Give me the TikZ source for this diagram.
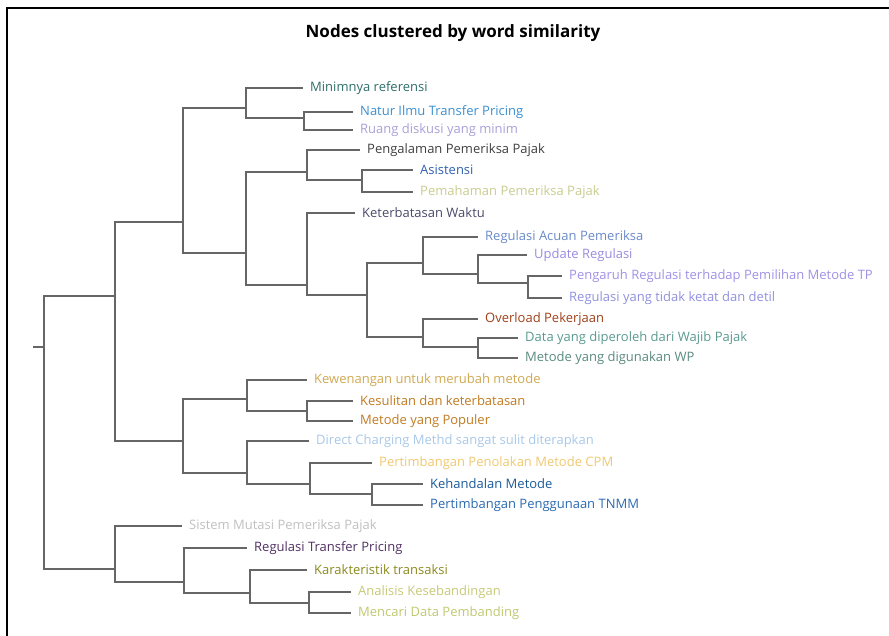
\documentclass[tikz,border=0pt]{standalone}
\usepackage{fontspec}
\setmainfont{Open Sans}
\usepackage{xcolor}
\definecolor{linkgray}{HTML}{666666}
\definecolor{cMin}{HTML}{2E6E6A}
\definecolor{cNatur}{HTML}{3A8FD0}
\definecolor{cRuang}{HTML}{A9A0D8}
\definecolor{cPengal}{HTML}{404040}
\definecolor{cAsist}{HTML}{3060B0}
\definecolor{cPemah}{HTML}{C8CC90}
\definecolor{cKeterb}{HTML}{4A4A6A}
\definecolor{cAcuan}{HTML}{6A8AC8}
\definecolor{cUpdate}{HTML}{9A8AE0}
\definecolor{cPengar}{HTML}{A090E8}
\definecolor{cTidak}{HTML}{9090E0}
\definecolor{cOverl}{HTML}{A0401A}
\definecolor{cData}{HTML}{5A9A90}
\definecolor{cWP}{HTML}{5A8A80}
\definecolor{cKewen}{HTML}{D0A850}
\definecolor{cSulit}{HTML}{C07A20}
\definecolor{cDirect}{HTML}{A8C8E8}
\definecolor{cTolak}{HTML}{F0C870}
\definecolor{cHandal}{HTML}{1A5A9A}
\definecolor{cTNMM}{HTML}{2A6AB0}
\definecolor{cMutasi}{HTML}{C0C0C0}
\definecolor{cRegTP}{HTML}{503060}
\definecolor{cKarak}{HTML}{8A8A20}
\definecolor{cAnal}{HTML}{C8C878}
\definecolor{cCari}{HTML}{C0C870}

\begin{document}
\begin{tikzpicture}[x=1pt,y=-1pt,
    link/.style={draw=linkgray,line width=1.3pt},
    leaf/.style={anchor=west,inner xsep=7pt,inner ysep=1pt,font=\fontsize{13}{15}\selectfont}]

      \useasboundingbox (0,0) rectangle (889,636);
      \draw [line width=1.5pt] (7,636) -- (7,8) -- (889,8);
      \node [font=\bfseries\fontsize{17}{19}\selectfont] (title) at (453,33) {Nodes clustered by word similarity};

      % junctions: x of the vertical bar, y of the stem
      \coordinate (stub) at (33,347);
      \coordinate (jroot) at (44,347);
      \coordinate (jA) at (115,296);
      \coordinate (jA1) at (183,222);
      \coordinate (jA1a) at (246,108);
      \coordinate (jA1a2) at (304,118);
      \coordinate (jA1b) at (246,253);
      \coordinate (jP) at (307,172);
      \coordinate (jP2) at (362,180);
      \coordinate (jK) at (307,285);
      \coordinate (jK2) at (367,295);
      \coordinate (jR) at (423,263);
      \coordinate (jR2) at (478,274);
      \coordinate (jR3) at (528,283);
      \coordinate (jO) at (423,337);
      \coordinate (jO2) at (478,347);
      \coordinate (jA2) at (183,441);
      \coordinate (jW) at (247,399);
      \coordinate (jW2) at (307,411);
      \coordinate (jD) at (247,473);
      \coordinate (jD2) at (310,484);
      \coordinate (jD3) at (372,494);
      \coordinate (jB) at (115,569);
      \coordinate (jB2) at (184,582);
      \coordinate (jB3) at (250,593);
      \coordinate (jB4) at (309,603);

      % leaves
      \node [leaf,text=cMin] (minim) at (303,88) {Minimnya referensi};
      \node [leaf,text=cNatur] (natur) at (353,112) {Natur Ilmu Transfer Pricing};
      \node [leaf,text=cRuang] (ruang) at (353,130) {Ruang diskusi yang minim};
      \node [leaf,text=cPengal] (pengal) at (360,150) {Pengalaman Pemeriksa Pajak};
      \node [leaf,text=cAsist] (asist) at (413,170) {Asistensi};
      \node [leaf,text=cPemah] (pemah) at (413,192) {Pemahaman Pemeriksa Pajak};
      \node [leaf,text=cKeterb] (keterb) at (355,213) {Keterbatasan Waktu};
      \node [leaf,text=cAcuan] (acuan) at (478,237) {Regulasi Acuan Pemeriksa};
      \node [leaf,text=cUpdate] (update) at (527,255) {Update Regulasi};
      \node [leaf,text=cPengar] (pengar) at (562,276) {Pengaruh Regulasi terhadap Pemilihan Metode TP};
      \node [leaf,text=cTidak] (tidak) at (562,298) {Regulasi yang tidak ketat dan detil};
      \node [leaf,text=cOverl] (overl) at (478,319) {Overload Pekerjaan};
      \node [leaf,text=cData] (data) at (518,338) {Data yang diperoleh dari Wajib Pajak};
      \node [leaf,text=cWP] (wp) at (518,358) {Metode yang digunakan WP};
      \node [leaf,text=cKewen] (kewen) at (307,380) {Kewenangan untuk merubah metode};
      \node [leaf,text=cSulit] (sulit) at (353,401) {Kesulitan dan keterbatasan};
      \node [leaf,text=cSulit] (populer) at (353,421) {Metode yang Populer};
      \node [leaf,text=cDirect] (direct) at (309,441) {Direct Charging Methd sangat sulit diterapkan};
      \node [leaf,text=cTolak] (tolak) at (372,463) {Pertimbangan Penolakan Metode CPM};
      \node [leaf,text=cHandal] (handal) at (423,484) {Kehandalan Metode};
      \node [leaf,text=cTNMM] (tnmm) at (423,505) {Pertimbangan Penggunaan TNMM};
      \node [leaf,text=cMutasi] (mutasi) at (182,526) {Sistem Mutasi Pemeriksa Pajak};
      \node [leaf,text=cRegTP] (regtp) at (247,548) {Regulasi Transfer Pricing};
      \node [leaf,text=cKarak] (karak) at (307,570) {Karakteristik transaksi};
      \node [leaf,text=cAnal] (anal) at (351,592) {Analisis Kesebandingan};
      \node [leaf,text=cCari] (cari) at (351,613) {Mencari Data Pembanding};

      % links
      \draw [link] (stub) -- (jroot);
      \draw [link] (jroot) |- (jA);
      \draw [link] (jroot) |- (jB);

      \draw [link] (jA) |- (jA1);
      \draw [link] (jA) |- (jA2);
      \draw [link] (jA1) |- (jA1a);
      \draw [link] (jA1) |- (jA1b);

      \draw [link] (jA1a) |- (minim.west);
      \draw [link] (jA1a) |- (jA1a2);
      \draw [link] (jA1a2) |- (natur.west);
      \draw [link] (jA1a2) |- (ruang.west);

      \draw [link] (jA1b) |- (jP);
      \draw [link] (jA1b) |- (jK);
      \draw [link] (jP) |- (pengal.west);
      \draw [link] (jP) |- (jP2);
      \draw [link] (jP2) |- (asist.west);
      \draw [link] (jP2) |- (pemah.west);

      \draw [link] (jK) |- (keterb.west);
      \draw [link] (jK) |- (jK2);
      \draw [link] (jK2) |- (jR);
      \draw [link] (jK2) |- (jO);
      \draw [link] (jR) |- (acuan.west);
      \draw [link] (jR) |- (jR2);
      \draw [link] (jR2) |- (update.west);
      \draw [link] (jR2) |- (jR3);
      \draw [link] (jR3) |- (pengar.west);
      \draw [link] (jR3) |- (tidak.west);
      \draw [link] (jO) |- (overl.west);
      \draw [link] (jO) |- (jO2);
      \draw [link] (jO2) |- (data.west);
      \draw [link] (jO2) |- (wp.west);

      \draw [link] (jA2) |- (jW);
      \draw [link] (jA2) |- (jD);
      \draw [link] (jW) |- (kewen.west);
      \draw [link] (jW) |- (jW2);
      \draw [link] (jW2) |- (sulit.west);
      \draw [link] (jW2) |- (populer.west);
      \draw [link] (jD) |- (direct.west);
      \draw [link] (jD) |- (jD2);
      \draw [link] (jD2) |- (tolak.west);
      \draw [link] (jD2) |- (jD3);
      \draw [link] (jD3) |- (handal.west);
      \draw [link] (jD3) |- (tnmm.west);

      \draw [link] (jB) |- (mutasi.west);
      \draw [link] (jB) |- (jB2);
      \draw [link] (jB2) |- (regtp.west);
      \draw [link] (jB2) |- (jB3);
      \draw [link] (jB3) |- (karak.west);
      \draw [link] (jB3) |- (jB4);
      \draw [link] (jB4) |- (anal.west);
      \draw [link] (jB4) |- (cari.west);

\end{tikzpicture}
\end{document}
